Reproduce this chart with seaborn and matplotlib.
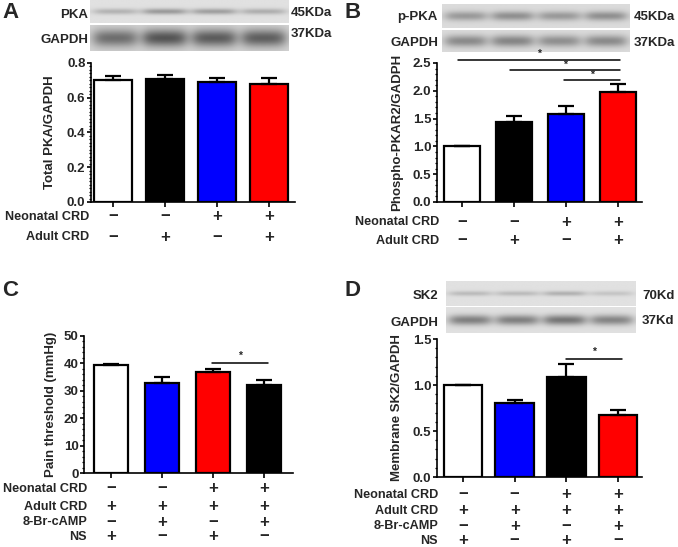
import numpy as np
import pandas as pd
import matplotlib
matplotlib.use("Agg")
import matplotlib.pyplot as plt
import matplotlib.transforms as mtransforms
from matplotlib.ticker import MultipleLocator, AutoMinorLocator, FormatStrFormatter
import seaborn as sns

# ---- data ----
groups = ["g1", "g2", "g3", "g4"]

a_means = [0.70, 0.71, 0.69, 0.68]
a_sem = [0.025, 0.023, 0.023, 0.033]
a_colors = ["white", "black", "#0000ff", "#ff0000"]

b_means = [1.00, 1.43, 1.58, 1.98]
b_sem = [0.0, 0.12, 0.15, 0.15]
b_colors = ["white", "black", "#0000ff", "#ff0000"]

c_means = [39.4, 33.0, 36.7, 32.1]
c_sem = [0.4, 2.1, 1.3, 1.8]
c_colors = ["white", "#0000ff", "#ff0000", "black"]

d_means = [1.00, 0.80, 1.09, 0.67]
d_sem = [0.0, 0.04, 0.14, 0.06]
d_colors = ["white", "#0000ff", "black", "#ff0000"]

ab_rows = [("Neonatal CRD", ["−", "−", "+", "+"]),
           ("Adult CRD", ["−", "+", "−", "+"])]
c_rows = [("Neonatal CRD", ["−", "−", "+", "+"]),
          ("Adult CRD", ["+", "+", "+", "+"]),
          ("8-Br-cAMP", ["−", "+", "−", "+"]),
          ("NS", ["+", "−", "+", "−"])]
d_rows = c_rows

# blot band darkness per lane
a_pka_bands = [0.18, 0.28, 0.26, 0.20]
a_gapdh_bands = [0.40, 0.50, 0.47, 0.46]
b_ppka_bands = [0.26, 0.30, 0.26, 0.30]
b_gapdh_bands = [0.32, 0.34, 0.30, 0.32]
d_sk2_bands = [0.15, 0.15, 0.19, 0.11]
d_gapdh_bands = [0.38, 0.38, 0.42, 0.36]

# ---- style ----
sns.set_theme(style="ticks")
plt.rcParams["font.family"] = ["Liberation Sans", "DejaVu Sans"]
plt.rcParams["font.weight"] = "bold"
plt.rcParams["axes.labelweight"] = "bold"

FS = 9.5
ROW_FS = 9.1
W, H = 678, 547
fig = plt.figure(figsize=(W / 100, H / 100), dpi=100)
fig.patch.set_facecolor("white")


def px_box(x0, y0, x1, y1):
    return [x0 / W, 1 - y1 / H, (x1 - x0) / W, (y1 - y0) / H]


def ftext(x, y, s, **kw):
    fig.text(x / W, 1 - y / H, s, **kw)


def draw_blot(x0, y0, x1, y1, bands, bg, sy):
    ax = fig.add_axes(px_box(x0, y0, x1, y1))
    w, h = 300, 60
    xs = np.linspace(0, 1, w)
    ys = np.linspace(0, 1, h)
    img = np.full((h, w), bg)
    for i, dark in enumerate(bands):
        cx = (i + 0.5) / len(bands)
        xprof = 1 / (1 + np.exp(-(0.105 - np.abs(xs - cx)) / 0.018))
        yprof = np.exp(-((ys - 0.5) / sy) ** 2)
        img = img - dark * np.outer(yprof, xprof)
    ax.imshow(img, cmap="gray", vmin=0, vmax=1, aspect="auto",
              interpolation="bilinear")
    ax.set_axis_off()


def draw_panel(box, means, sem, colors, width, xlim, ylim, major, minor,
               fmt, ylabel, label_x):
    ax = fig.add_axes(px_box(*box))
    df = pd.DataFrame({"group": groups, "value": means})
    sns.barplot(data=df, x="group", y="value", hue="group", palette=colors,
                order=groups, hue_order=groups, edgecolor="black",
                linewidth=1.6, width=width, errorbar=None, legend=False,
                saturation=1, ax=ax)
    x = np.arange(len(groups))
    ax.errorbar(x, means, yerr=[np.zeros(len(sem)), sem], fmt="none",
                ecolor="black", elinewidth=1.6, capsize=6, capthick=1.6,
                zorder=1)
    ax.set_xlim(*xlim)
    ax.set_ylim(*ylim)
    ax.yaxis.set_major_locator(MultipleLocator(major))
    ax.yaxis.set_minor_locator(AutoMinorLocator(minor))
    ax.yaxis.set_major_formatter(FormatStrFormatter(fmt))
    ax.set_xticks(x)
    ax.set_xticklabels([])
    ax.set_xlabel("")
    ax.set_ylabel(ylabel, fontsize=FS, fontweight="bold")
    ax.yaxis.set_label_coords(label_x, 0.5)
    ax.tick_params(axis="y", which="major", length=3, width=1.2,
                   labelsize=FS, pad=1, color="black")
    ax.tick_params(axis="y", which="minor", length=1.8, width=0.9,
                   color="black")
    ax.tick_params(axis="x", length=3.5, width=1.2, color="black")
    for side in ["top", "right"]:
        ax.spines[side].set_visible(False)
    for side in ["left", "bottom"]:
        ax.spines[side].set_linewidth(1.2)
        ax.spines[side].set_color("black")
    ax.set_facecolor("white")
    for lab in ax.get_yticklabels():
        lab.set_fontweight("bold")
    return ax


def draw_rows(ax, rows, ys, label_right):
    trans = mtransforms.blended_transform_factory(ax.transData,
                                                  fig.transFigure)
    for (name, signs), y in zip(rows, ys):
        ftext(label_right, y, name, ha="right", va="center",
              fontsize=ROW_FS, fontweight="bold")
        for i, s in enumerate(signs):
            ax.text(i, 1 - y / H, s, transform=trans, ha="center",
                    va="center", fontsize=12, fontweight="bold",
                    clip_on=False)


def sig(ax, x0, x1, y, star_y):
    ax.plot([x0, x1], [y, y], color="black", lw=1.1, clip_on=False)
    ax.text((x0 + x1) / 2, star_y, "*", ha="center", va="center",
            fontsize=7.5, fontweight="bold", clip_on=False)


# ---- panel A ----
draw_blot(90, 0, 289, 23, a_pka_bands, 0.88, 0.13)
draw_blot(90, 25, 289, 51, a_gapdh_bands, 0.83, 0.34)
ftext(88, 15, "PKA", ha="right", va="center", fontsize=FS)
ftext(88, 40, "GAPDH", ha="right", va="center", fontsize=FS)
ftext(291, 13, "45KDa", ha="left", va="center", fontsize=FS)
ftext(291, 34, "37KDa", ha="left", va="center", fontsize=FS)
ax_a = draw_panel((91, 63, 295, 202), a_means, a_sem, a_colors, 0.73,
                  (-0.42, 3.5), (0, 0.8), 0.2, 10, "%.1f",
                  "Total PKA/GAPDH", -0.17)
draw_rows(ax_a, ab_rows, [217, 237], 89)
ftext(2, 12, "A", ha="left", va="center", fontsize=16)

# ---- panel B ----
draw_blot(442, 4, 630, 28, b_ppka_bands, 0.86, 0.2)
draw_blot(442, 30, 630, 52, b_gapdh_bands, 0.86, 0.27)
ftext(438, 17, "p-PKA", ha="right", va="center", fontsize=FS)
ftext(438, 43, "GAPDH", ha="right", va="center", fontsize=FS)
ftext(634, 17, "45KDa", ha="left", va="center", fontsize=FS)
ftext(634, 43, "37KDa", ha="left", va="center", fontsize=FS)
ax_b = draw_panel((437, 63, 642, 202), b_means, b_sem, b_colors, 0.68,
                  (-0.48, 3.46), (0, 2.5), 0.5, 5, "%.1f",
                  "Phospho-PKAR2/GADPH", -0.165)
sig(ax_b, -0.08, 3.04, 2.56, 2.66)
sig(ax_b, 0.92, 3.04, 2.37, 2.47)
sig(ax_b, 1.96, 3.04, 2.20, 2.29)
draw_rows(ax_b, ab_rows, [222, 241], 439)
ftext(344, 12, "B", ha="left", va="center", fontsize=16)

# ---- panel C ----
ax_c = draw_panel((84, 336, 293, 473), c_means, c_sem, c_colors, 0.67,
                  (-0.53, 3.57), (0, 50), 10, 5, "%d",
                  "Pain threshold (mmHg)", -0.13)
sig(ax_c, 1.98, 3.08, 40.0, 42.6)
draw_rows(ax_c, c_rows, [489, 507, 522, 537], 87)
ftext(2, 291, "C", ha="left", va="center", fontsize=16)

# ---- panel D ----
draw_blot(446, 281, 635, 306, d_sk2_bands, 0.88, 0.1)
draw_blot(446, 307, 635, 333, d_gapdh_bands, 0.88, 0.2)
ftext(438, 296, "SK2", ha="right", va="center", fontsize=FS)
ftext(438, 323, "GAPDH", ha="right", va="center", fontsize=FS)
ftext(642, 296, "70Kd", ha="left", va="center", fontsize=FS)
ftext(642, 321, "37Kd", ha="left", va="center", fontsize=FS)
ax_d = draw_panel((437, 339, 642, 477), d_means, d_sem, d_colors, 0.74,
                  (-0.5, 3.46), (0, 1.5), 0.5, 5, "%.1f",
                  "Membrane SK2/GAPDH", -0.165)
sig(ax_d, 2.0, 3.08, 1.28, 1.36)
draw_rows(ax_d, d_rows, [495, 511, 526, 541], 438)
ftext(344, 290, "D", ha="left", va="center", fontsize=16)

fig.savefig("out.png", dpi=100, facecolor="white")
plt.close(fig)
